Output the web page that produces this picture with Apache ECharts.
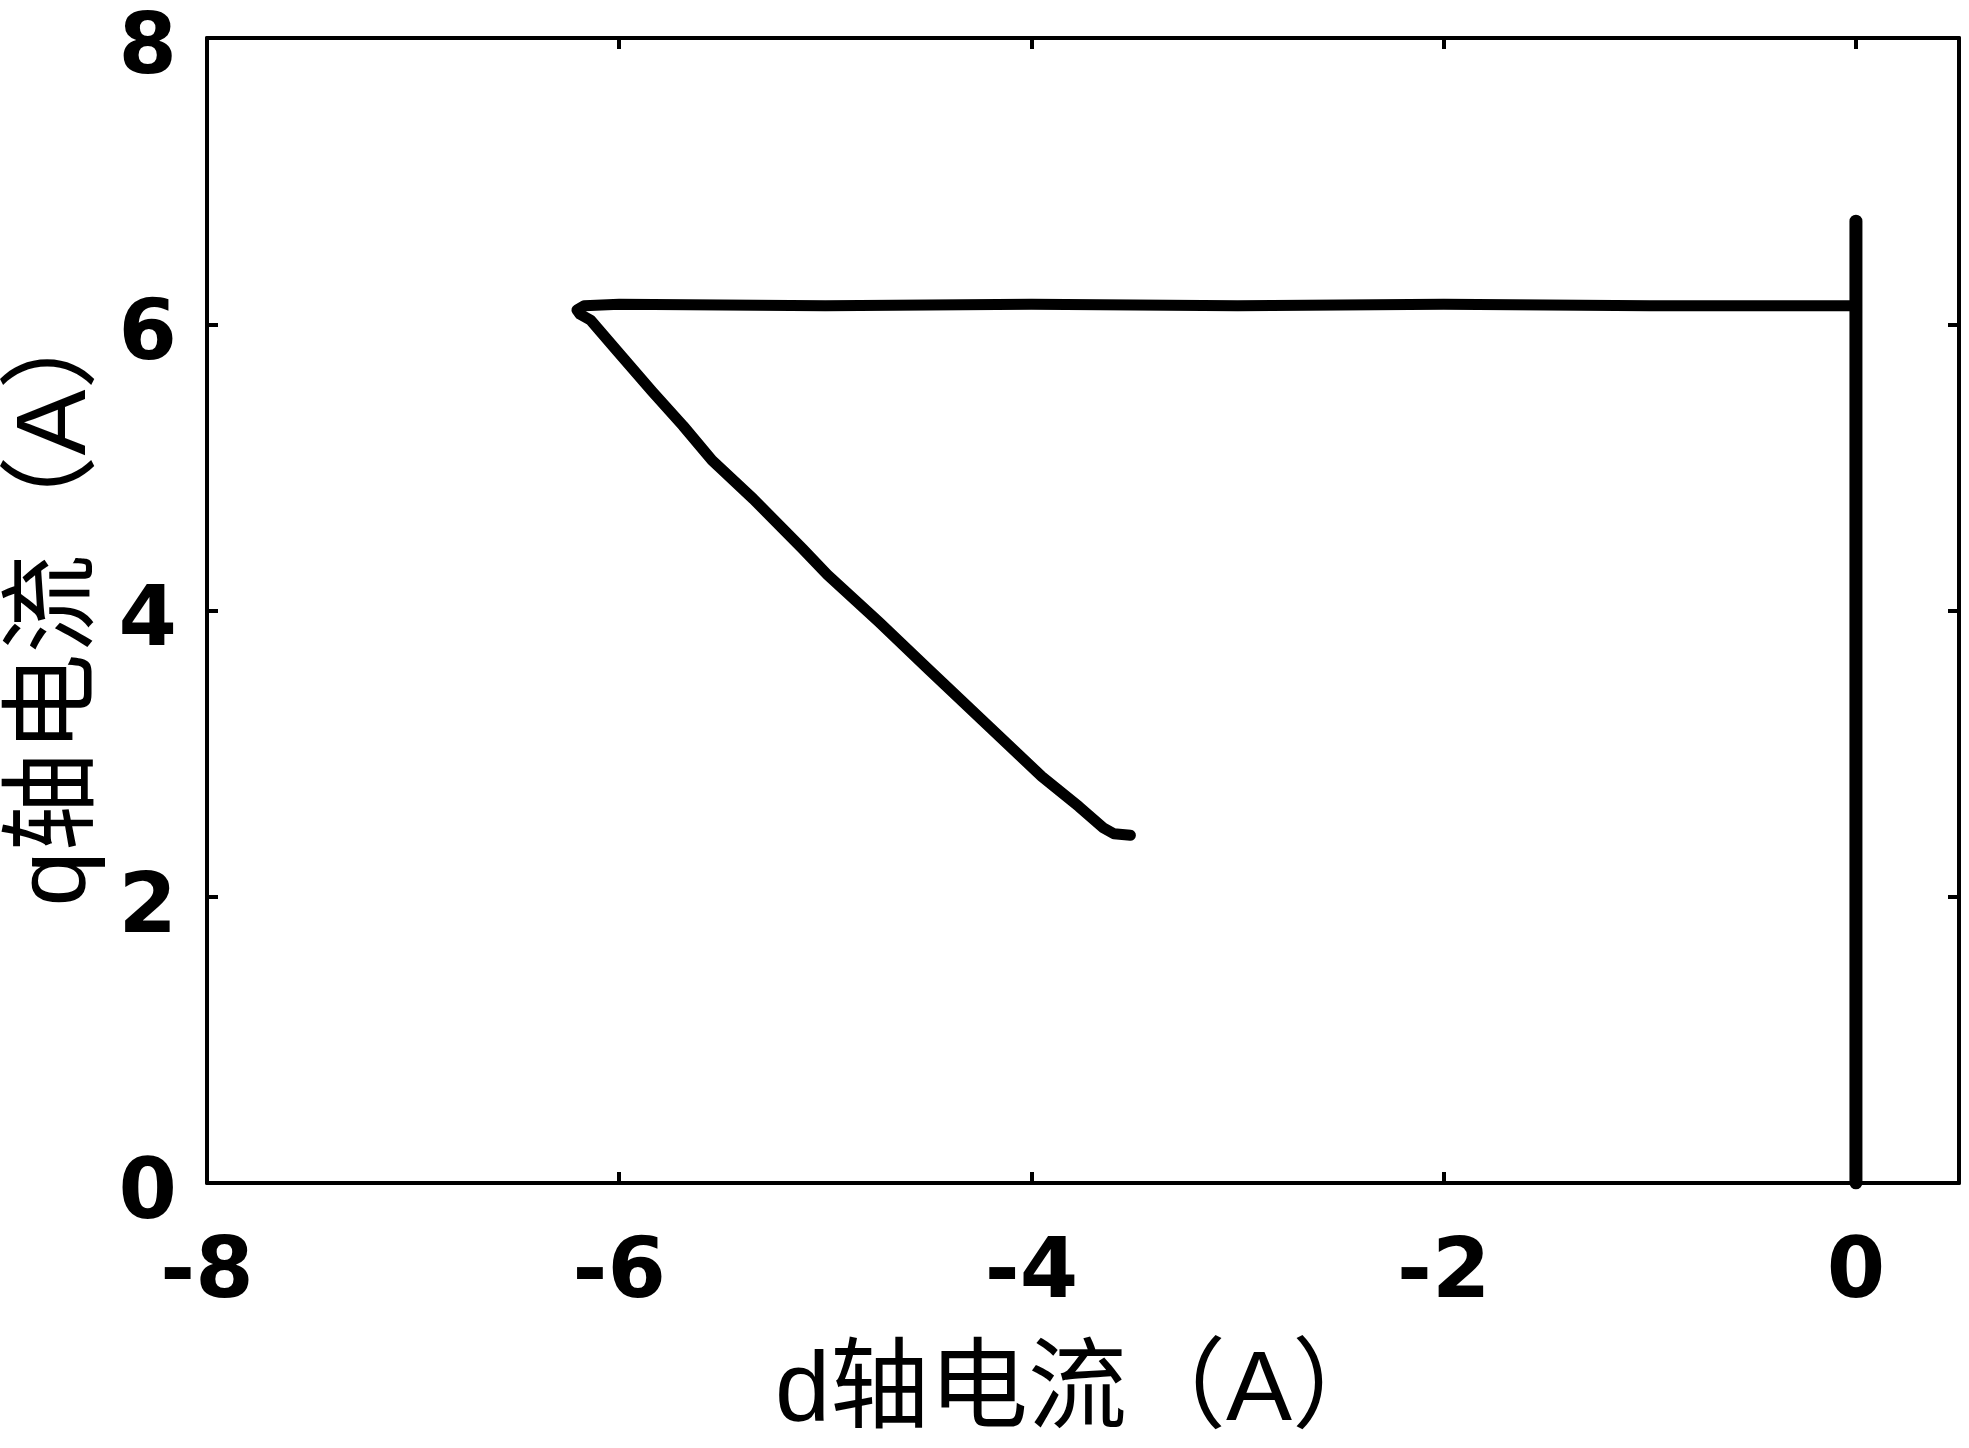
<!DOCTYPE html>
<html>
<head>
<meta charset="utf-8">
<script src="https://cdn.jsdelivr.net/npm/echarts@6/dist/echarts.min.js"></script>
<style>
  html, body { margin: 0; padding: 0; background: #fff; }
  #chart { width: 1969px; height: 1448px; }
</style>
</head>
<body>
<div id="chart"></div>
<script>
// trajectory of the current vector (d axis, q axis)
const dCurrent = [0, 0, 0, -0.02, -1, -2, -3, -4, -5, -6, -6.17, -6.205,
  -6.19, -6.14, -6.02, -5.84, -5.69, -5.55, -5.35, -5.11, -4.99, -4.74,
  -4.50, -4.20, -3.95, -3.77, -3.65, -3.60, -3.52];
const qCurrent = [0, 6.72, 6.13, 6.13, 6.13, 6.14, 6.13, 6.14, 6.13, 6.14, 6.13, 6.10,
  6.07, 6.03, 5.83, 5.53, 5.29, 5.05, 4.78, 4.43, 4.25, 3.92,
  3.59, 3.18, 2.84, 2.63, 2.48, 2.44, 2.43];

const xTitle = 'd轴电流（A）';
const yTitle = 'q轴电流（A）';

const points = dCurrent.map((d, i) => [d, qCurrent[i]]);
// the start-up jump along the q axis looks heavier in the figure
const risePoints = points.slice(0, 3);

const tickFont = {
  color: '#000',
  fontFamily: 'DejaVu Sans',
  fontWeight: 'bold',
  fontSize: 84
};
const titleFont = {
  color: '#000',
  fontFamily: '"Liberation Sans", "Noto Sans CJK SC"',
  fontSize: 99
};
const lineStyle = { color: '#000', width: 4 };
const axisLine = { onZero: false, lineStyle: lineStyle };
const axisTick = { inside: true, length: 11, lineStyle: lineStyle };

const chart = echarts.init(document.getElementById('chart'));
chart.setOption({
  animation: false,
  backgroundColor: '#fff',
  grid: { left: 207, right: 10, top: 38, bottom: 265 },
  xAxis: [
    {
      type: 'value', min: -8, max: 0.5, interval: 2,
      position: 'bottom',
      name: xTitle, nameLocation: 'middle', nameGap: 160,
      nameTextStyle: titleFont,
      axisLine: axisLine,
      axisTick: axisTick,
      axisLabel: Object.assign({ margin: 50, showMaxLabel: false }, tickFont),
      splitLine: { show: false }
    },
    {
      type: 'value', min: -8, max: 0.5, interval: 2,
      position: 'top',
      axisLine: axisLine,
      axisTick: axisTick,
      axisLabel: { show: false },
      splitLine: { show: false }
    }
  ],
  yAxis: [
    {
      type: 'value', min: 0, max: 8, interval: 2,
      position: 'left',
      name: yTitle, nameLocation: 'middle', nameGap: 87,
      nameTextStyle: Object.assign({ padding: [0, 0, 0, 24] }, titleFont),
      axisLine: axisLine,
      axisTick: axisTick,
      axisLabel: {
        margin: 30,
        formatter: '{v|{value}}',
        rich: { v: Object.assign({ lineHeight: 110, verticalAlign: 'bottom' }, tickFont) }
      },
      splitLine: { show: false }
    },
    {
      type: 'value', min: 0, max: 8, interval: 2,
      position: 'right',
      axisLine: axisLine,
      axisTick: axisTick,
      axisLabel: { show: false },
      splitLine: { show: false }
    }
  ],
  series: [
    {
      type: 'line',
      data: points,
      showSymbol: false,
      symbol: 'none',
      lineStyle: { color: '#000', width: 11, cap: 'round', join: 'round' }
    },
    {
      type: 'line',
      data: risePoints,
      showSymbol: false,
      symbol: 'none',
      lineStyle: { color: '#000', width: 13, cap: 'round', join: 'round' }
    }
  ]
});
</script>
</body>
</html>
